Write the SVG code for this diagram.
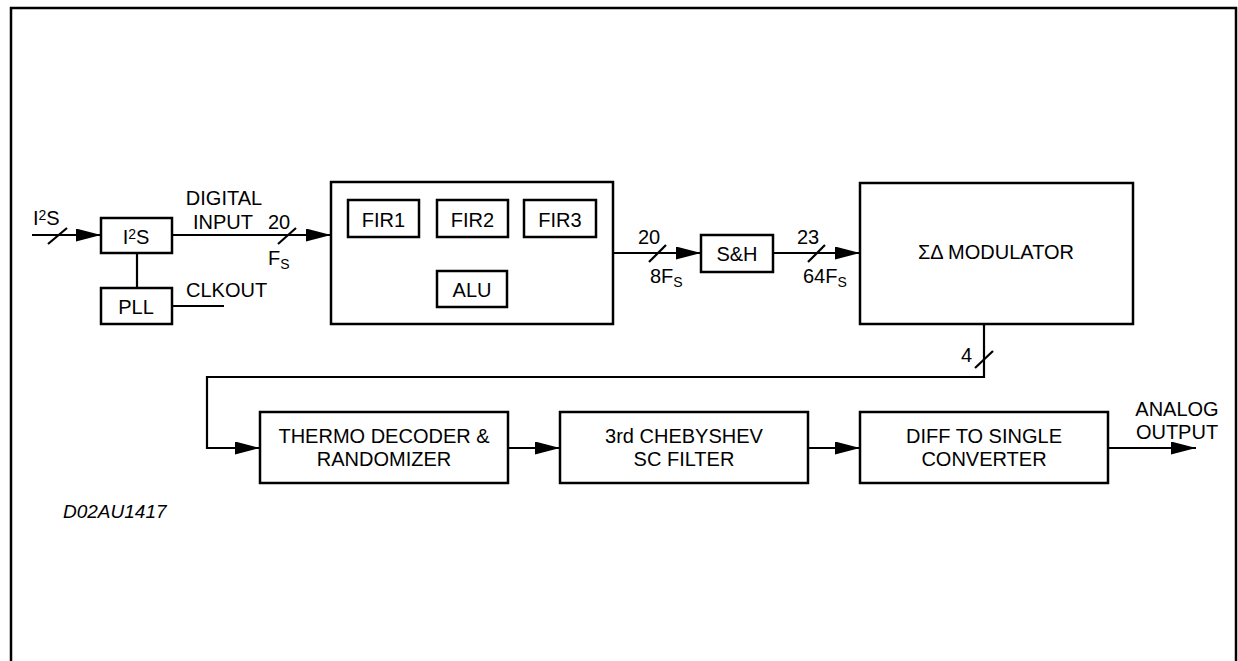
<svg xmlns="http://www.w3.org/2000/svg" width="1238" height="661" viewBox="0 0 1238 661">
<defs>
<style>
.box{fill:#fff;stroke:#000;stroke-width:2.5}
.ln{fill:none;stroke:#000;stroke-width:2.2}
.arr{marker-end:url(#ah)}
text{font-family:"Liberation Sans",Arial,sans-serif;font-size:20px;fill:#000}
.c{text-anchor:middle}
.sub{font-size:14px}
.it{font-style:italic;font-size:19px}
</style>
<marker id="ah" markerUnits="userSpaceOnUse" markerWidth="25" markerHeight="13" refX="25" refY="6.5" orient="auto" viewBox="0 0 25 13">
<path d="M0,0 L25,6.5 L0,13 z" fill="#000"/>
</marker>
</defs>
<rect width="1238" height="661" fill="#fff"/>
<path d="M11,665 V8 H1236 V665" fill="none" stroke="#000" stroke-width="2.5"/>

<g id="connectors">
<path class="ln arr" d="M32,235 H101"/>
<path class="ln" d="M48,244 L67,228"/>
<path class="ln" d="M137,253 V288"/>
<path class="ln" d="M172,306 H224"/>
<path class="ln arr" d="M172,235 H331"/>
<path class="ln" d="M278,244 L296,228"/>
<path class="ln arr" d="M613,253 H701"/>
<path class="ln" d="M649,262 L666,245"/>
<path class="ln arr" d="M773,253 H860"/>
<path class="ln" d="M808,262 L825,245"/>
<path class="ln arr" d="M984,324 V377 H207 V448 H260"/>
<path class="ln" d="M975,368 L993,351"/>
<path class="ln arr" d="M508,448 H560"/>
<path class="ln arr" d="M808,448 H860"/>
<path class="ln arr" d="M1108,448 H1196"/>
</g>

<g id="labels">
<text x="33" y="225">I<tspan class="sub" dy="-5">2</tspan><tspan dy="5">S</tspan></text>
<text class="c" x="224" y="205">DIGITAL</text>
<text class="c" x="223" y="229">INPUT</text>
<text x="268" y="229">20</text>
<text x="268" y="265">F<tspan class="sub" dy="4">S</tspan></text>
<text x="186" y="297">CLKOUT</text>
<text x="638" y="244">20</text>
<text x="650" y="283">8F<tspan class="sub" dy="4">S</tspan></text>
<text x="797" y="244">23</text>
<text x="803" y="283">64F<tspan class="sub" dy="4">S</tspan></text>
<text x="961" y="362">4</text>
<text class="c" x="1177" y="416">ANALOG</text>
<text class="c" x="1177" y="439">OUTPUT</text>
<text class="it" x="63" y="518">D02AU1417</text>
</g>

<g id="i2s">
<rect class="box" x="101" y="218" width="71" height="35"/>
<text class="c" x="136" y="244">I<tspan class="sub" dy="-5">2</tspan><tspan dy="5">S</tspan></text>
</g>
<g id="pll">
<rect class="box" x="101" y="288" width="71" height="36"/>
<text class="c" x="136" y="314">PLL</text>
</g>
<g id="dsp">
<rect class="box" x="331" y="182" width="282" height="142"/>
</g>
<g id="fir1">
<rect class="box" x="348" y="200" width="71" height="37"/>
<text class="c" x="383.5" y="227">FIR1</text>
</g>
<g id="fir2">
<rect class="box" x="437" y="200" width="71" height="37"/>
<text class="c" x="472.5" y="227">FIR2</text>
</g>
<g id="fir3">
<rect class="box" x="524" y="200" width="72" height="37"/>
<text class="c" x="560" y="227">FIR3</text>
</g>
<g id="alu">
<rect class="box" x="437" y="271" width="70" height="36"/>
<text class="c" x="472" y="297">ALU</text>
</g>
<g id="sh">
<rect class="box" x="701" y="235" width="72" height="37"/>
<text class="c" x="737" y="261">S&amp;H</text>
</g>
<g id="modulator">
<rect class="box" x="860" y="183" width="273" height="141"/>
<text class="c" x="996" y="259">ΣΔ MODULATOR</text>
</g>
<g id="thermo">
<rect class="box" x="260" y="412" width="248" height="71"/>
<text class="c" x="384" y="443">THERMO DECODER &amp;</text>
<text class="c" x="384" y="466">RANDOMIZER</text>
</g>
<g id="cheby">
<rect class="box" x="560" y="412" width="248" height="71"/>
<text class="c" x="684" y="443">3rd CHEBYSHEV</text>
<text class="c" x="684" y="466">SC FILTER</text>
</g>
<g id="diff">
<rect class="box" x="860" y="412" width="248" height="71"/>
<text class="c" x="984" y="443">DIFF TO SINGLE</text>
<text class="c" x="984" y="466">CONVERTER</text>
</g>
</svg>
